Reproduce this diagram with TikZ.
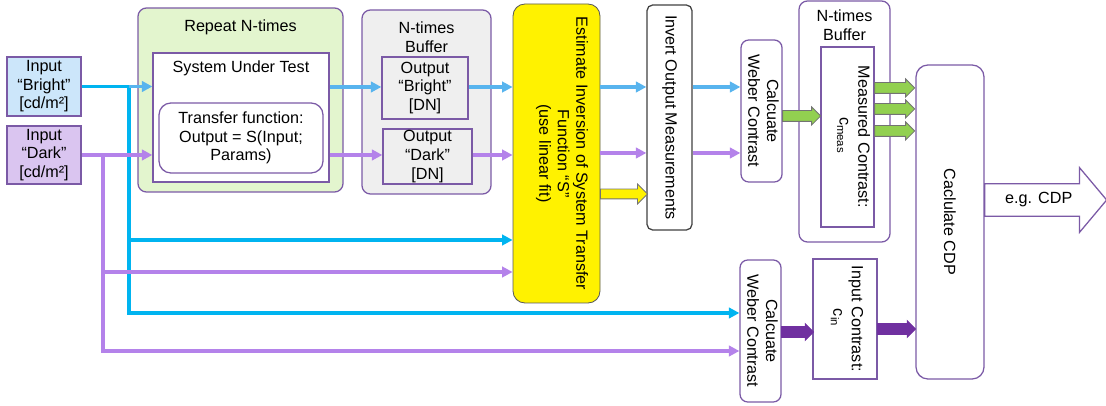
\documentclass[tikz,border=0pt]{standalone}
\usepackage{fontspec}
\setmainfont{Liberation Sans}
\usetikzlibrary{arrows.meta,fit,shapes.arrows}
\definecolor{edge}{HTML}{7B5AA6}
\definecolor{inbright}{HTML}{CCE6FA}
\definecolor{indark}{HTML}{DAC5F0}
\definecolor{grpgreen}{HTML}{E3F5CE}
\definecolor{bufgrey}{HTML}{EFEFEF}
\definecolor{cyanline}{HTML}{00B4F0}
\definecolor{blueflow}{HTML}{58B4EE}
\definecolor{purpline}{HTML}{B482EA}
\definecolor{darkpurp}{HTML}{7030A0}
\definecolor{arrgreen}{HTML}{92D050}

\begin{document}
\begin{tikzpicture}[x=0.025cm,y=-0.025cm,font=\fontsize{11.5}{13.2}\selectfont,
  box/.style={draw=edge,line width=0.9pt,inner sep=0pt},
  rbox/.style={box,rounded corners=#1},
  txt/.style={label={[align=center]center:#1}},
  rtext/.style={rotate=-90,align=center},
  title/.style={anchor=center,align=center,yshift=#1},
  flow/.style={line width=2.5pt,-{Triangle[length=7.5pt,width=7.5pt]}},
  blockarr/.style={single arrow,anchor=tail,inner sep=0pt,outer sep=0pt,line width=0.6pt},
  greenarr/.style={blockarr,fill=arrgreen,draw=black!55,inner ysep=0.125cm,single arrow head extend=0.09cm},
  purparr/.style={blockarr,fill=darkpurp,draw=darkpurp,inner ysep=0.125cm,single arrow head extend=0.075cm}]
\useasboundingbox (0,0) rectangle (1106,406);

\node[box,fill=inbright,fit={(7,57)(81,116)},txt={Input\\“Bright”\\{[cd/m²]}}] (bright) {};
\node[box,fill=indark,fit={(7,126)(81,184)},txt={Input\\“Dark”\\{[cd/m²]}}] (dark) {};

\node[rbox=6pt,fill=grpgreen,fit={(138,8)(343,192)},label={[title=1.825cm]center:Repeat N-times}] (repeat) {};
\node[box,fill=white,fit={(153,53)(329,182)},label={[title=1.2375cm]center:System Under Test}] (sut) {};
\node[rbox=8.5pt,fit={(159,103)(323,173)},txt={Transfer function:\\Output = S(Input;\\Params)}] (transfer) {};

\node[rbox=6pt,fill=bufgrey,fit={(362,10)(491,194)},label={[title=1.6125cm]center:N-times\\Buffer}] (buffer) {};
\node[box,fit={(382,57)(468,119)},txt={Output\\“Bright”\\{[DN]}}] (obright) {};
\node[box,fit={(383,129)(472,184)},txt={Output\\“Dark”\\{[DN]}}] (odark) {};

\node[rbox=8.5pt,fill=yellow,draw=black!65,line width=0.6pt,fit={(513,4)(600,303)},
  label={[rtext,yshift=0.14cm]center:Estimate Inversion of System Transfer\\Function “S”\\(use linear fit)}] (est) {};
\node[rbox=4pt,draw=black!75,fit={(647,5)(692,230)},label={[rtext]center:Invert Output Measurements}] (inv) {};
\node[rbox=5.5pt,fit={(741,40)(782,182)},label={[rtext,yshift=0.05cm]center:Calcuate\\Weber Contrast}] (calcA) {};

\node[rbox=6pt,fit={(799,1)(890,242)},label={[title=2.4cm]center:N-times\\Buffer}] (mbuffer) {};
\node[box,fit={(821,47)(874,227)},label={[rtext,align=left,yshift=0.15cm]center:Measured Contrast:\\\hspace*{1.275cm}c\textsubscript{meas}}] (meas) {};
\node[rbox=8.5pt,fit={(916,65)(984,379)},label={[rtext]center:Caclulate CDP}] (cdp) {};

\node[rbox=5.5pt,fit={(740,260)(781,402)},label={[rtext,yshift=0.05cm]center:Calcuate\\Weber Contrast}] (calcB) {};
\node[box,fit={(813,259)(877,379)},label={[rtext,align=left,yshift=0.05cm]center:Input Contrast:\\\hspace*{1.075cm}c\textsubscript{in}}] (incon) {};

\coordinate (jb) at (bright.east -| 129,0);
\coordinate (jd) at (dark.east -| 103,0);

\draw[flow,cyanline] (bright.east) -- (jb) |- (calcB.west |- 0,313);
\draw[flow,cyanline] (jb |- 0,240) -- (est.west |- 0,240);
\draw[flow,blueflow] (jb) -- (sut.west |- jb);
\draw[flow,purpline] (dark.east) -- (jd) |- (calcB.west |- 0,351);
\draw[flow,purpline] (jd |- 0,272) -- (est.west |- 0,272);
\draw[flow,purpline] (jd) -- (sut.west |- jd);

\foreach \a/\b/\y in {sut/obright/87,obright/est/87,est/inv/87,inv/calcA/87}
  \draw[flow,blueflow] (\a.east |- 0,\y) -- (\b.west |- 0,\y);
\foreach \a/\b/\y in {sut/odark/155,odark/est/155,est/inv/153,inv/calcA/153}
  \draw[flow,purpline] (\a.east |- 0,\y) -- (\b.west |- 0,\y);

\node[blockarr,fill=yellow,draw=black!55,inner ysep=0.1125cm,single arrow head extend=0.125cm,minimum height=1.175cm] at (est.east |- 0,194) {};
\node[greenarr,minimum height=0.95cm] at (calcA.east |- 0,116) {};
\foreach \y in {88,109,131}
  \node[greenarr,minimum height=1cm] at (meas.east |- 0,\y) {};
\node[purparr,minimum height=0.8cm] at (calcB.east |- 0,332) {};
\node[purparr,minimum height=0.95cm] at (incon.east |- 0,329) {};
\node[blockarr,draw=edge,fill=white,line width=0.9pt,inner xsep=0pt,inner ysep=0.21cm,single arrow head extend=0.4cm,single arrow tip angle=100,minimum height=3.05cm] at (cdp.east |- 0,200) {e.g. CDP};
\end{tikzpicture}
\end{document}
